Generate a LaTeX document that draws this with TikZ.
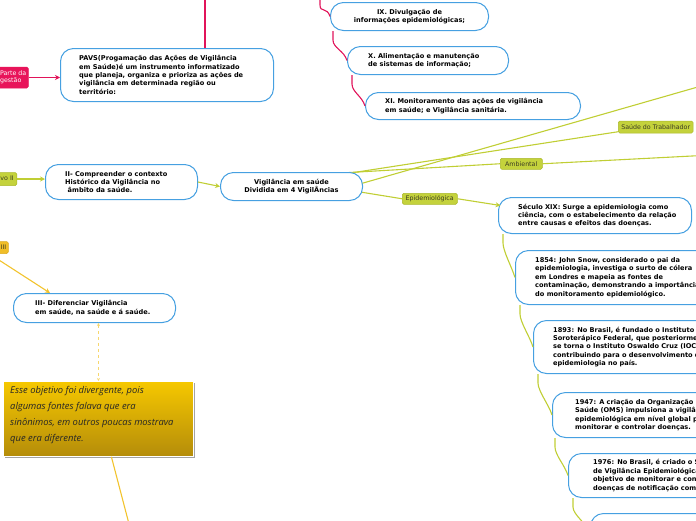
\documentclass[tikz,border=0pt]{standalone}
\usepackage{fontspec}
\setmainfont{DejaVu Sans}
\newfontfamily\notefont{Open Sans}
\usetikzlibrary{arrows.meta,calc,backgrounds,shadows}
\definecolor{bblue}{RGB}{70,160,225}
\definecolor{pcol}{RGB}{225,20,90}
\definecolor{pfill}{RGB}{232,20,90}
\definecolor{gcol}{RGB}{192,206,52}
\definecolor{glab}{RGB}{196,210,60}
\definecolor{gdark}{RGB}{170,184,40}
\definecolor{ylab}{RGB}{240,190,40}
\definecolor{ydark}{RGB}{220,170,30}
\definecolor{ycol}{RGB}{242,195,45}
\definecolor{dcol}{RGB}{247,215,110}
\definecolor{labtext}{RGB}{60,60,35}
\definecolor{ntop}{RGB}{246,200,0}
\definecolor{nbot}{RGB}{180,140,10}
\begin{document}
\begin{tikzpicture}[x=1pt,y=1pt,
  box/.style={draw=bblue, line width=1pt, fill=white, rounded corners=13pt, anchor=north west, inner sep=0pt},
  btxt/.style={font=\bfseries\fontsize{6.6}{8.4}\selectfont, align=left, anchor=west, inner sep=0pt, text=black},
  lab/.style={font=\fontsize{6.3}{7.5}\selectfont, inner sep=0pt, rounded corners=1.5pt, line width=0.5pt},
  gline/.style={draw=gcol, line width=1.1pt},
  pline/.style={draw=pcol, line width=1.1pt},
  yline/.style={draw=ycol, line width=1.1pt},
  dline/.style={draw=dcol, line width=1.1pt, dashed},
  branch/.style={to path={-- ++(0,-9) .. controls +(0,-8) and +(-3,10) .. (\tikztotarget)}},
  arr/.style={-{Stealth[length=5pt,width=5pt]}}
]
\useasboundingbox (0,0) rectangle (696,-520);
\clip (0,0) rectangle (696,-520);

% boxes
\node[box, minimum width=213pt, minimum height=53pt] (pavs) at (60,-48) {};
\node[btxt] (pavs-t) at ([xshift=19pt]pavs.west) {PAVS(Progamação das Ações de Vigilância\\em Saúde)é um instrumento informatizado\\que planeja, organiza e prioriza as ações de\\vigilância em determinada região ou\\território:};

\node[box, minimum width=158pt, minimum height=28pt] (ix) at (330,-2) {};
\node[btxt, align=center, anchor=center] (ix-t) at (ix.center) {IX. Divulgação de\\informações epidemiológicas;};

\node[box, minimum width=161pt, minimum height=28pt] (xn) at (347,-46) {};
\node[btxt] (xn-t) at ([xshift=21pt]xn.west) {X. Alimentação e manutenção\\de sistemas de informação;};

\node[box, minimum width=215pt, minimum height=27pt] (xi) at (365,-92) {};
\node[btxt] (xi-t) at ([xshift=20pt]xi.west) {XI. Monitoramento das ações de vigilância\\em saúde; e Vigilância sanitária.};

\node[box, minimum width=152pt, minimum height=35pt] (ii) at (45,-164) {};
\node[btxt] (ii-t) at ([xshift=20pt]ii.west) {II- Compreender o contexto\\Histórico da Vigilância no\\\hspace*{2.5pt}âmbito da saúde.};

\node[box, minimum width=142pt, minimum height=28pt] (vig) at (220,-172) {};
\node[btxt, align=center, anchor=center] (vig-t) at (vig.center) {Vigilância em saúde\\Dividida em 4 VigilÂncias};

\node[box, minimum width=162pt, minimum height=29pt] (iii) at (13,-293) {};
\node[btxt] (iii-t) at ([xshift=22pt]iii.west) {III- Diferenciar Vigilância\\em saúde, na saúde e á saúde.};

\node[box, minimum width=193pt, minimum height=36pt] (sec) at (498,-197) {};
\node[btxt] (sec-t) at ([xshift=20pt]sec.west) {Século XIX: Surge a epidemiologia como\\ciência, com o estabelecimento da relação\\entre causas e efeitos das doenças.};

\node[box, minimum width=200pt, minimum height=54pt] (n1854) at (515,-250) {};
\node[btxt] (n1854-t) at ([xshift=20pt]n1854.west) {1854: John Snow, considerado o pai da\\epidemiologia, investiga o surto de cólera\\em Londres e mapeia as fontes de\\contaminação, demonstrando a importância\\do monitoramento epidemiológico.};

\node[box, minimum width=200pt, minimum height=53pt] (n1893) at (533,-320) {};
\node[btxt] (n1893-t) at ([xshift=20pt]n1893.west) {1893: No Brasil, é fundado o Instituto\\Soroterápico Federal, que posteriormente\\se torna o Instituto Oswaldo Cruz (IOC),\\contribuindo para o desenvolvimento da\\epidemiologia no país.};

\node[box, minimum width=200pt, minimum height=45pt] (n1947) at (552,-392) {};
\node[btxt] (n1947-t) at ([xshift=23pt]n1947.west) {1947: A criação da Organização Mundial da\\Saúde (OMS) impulsiona a vigilância\\epidemiológica em nível global para\\monitorar e controlar doenças.};

\node[box, minimum width=200pt, minimum height=44pt] (n1976) at (568,-453) {};
\node[btxt] (n1976-t) at ([xshift=25pt]n1976.west) {1976: No Brasil, é criado o Sistema Nacional\\de Vigilância Epidemiológica (SNVE), com o\\objetivo de monitorar e controlar as\\doenças de notificação compulsória.};

\node[box, minimum width=200pt, minimum height=40pt] (n5) at (590,-513) {};

% note
\node[anchor=north west, minimum width=190pt, minimum height=75pt, inner sep=0pt,
      top color=ntop, bottom color=nbot, draw=white, line width=0.8pt,
      drop shadow={shadow xshift=1.5pt, shadow yshift=-1.8pt, fill=black!45, opacity=0.8}] (note) at (3,-381) {};
\node[font=\notefont\itshape\fontsize{9.4}{16}\selectfont, align=left, anchor=north west, inner sep=0pt, text=black!85] (note-t) at (10,-386.5) {Esse objetivo foi divergente, pois\\algumas fontes falava que era\\sinônimos, em outros poucas mostrava\\que era diferente.};

% labels
\node[lab, fill=pfill, draw=pfill, text=white, align=left, anchor=east, minimum height=21pt, inner xsep=2pt] (gestao) at (28.5,-77.5) {Parte da\\gestão};
\node[lab, fill=glab, draw=gdark, text=labtext, anchor=east, minimum height=13pt, inner xsep=3pt] (obj2) at (17,-179) {Objetivo II};
\node[lab, fill=ylab, draw=ydark, text=labtext, anchor=east, minimum height=12pt, inner xsep=2pt] (obj3) at (8.5,-247.5) {Objetivo III};
\node[lab, fill=glab, draw=gdark, text=labtext, anchor=west, minimum height=12pt, inner xsep=3pt] (st) at (618,-127) {Saúde do Trabalhador};
\node[lab, fill=glab, draw=gdark, text=labtext, anchor=north west, minimum width=42pt, minimum height=11pt] (amb) at (500,-158) {Ambiental};
\node[lab, fill=glab, draw=gdark, text=labtext, anchor=north west, minimum width=55pt, minimum height=11pt] (epi) at (402,-193) {Epidemiológica};

% coordinates
\coordinate (ptop) at (205,2);
\coordinate (ixsrc) at (320,4);
\coordinate (tr) at (696,-87.5);
\coordinate (ambout) at (696,-155.8);
\coordinate (nbotc) at (128.5,-522);

% green lines from vig (behind)
\begin{scope}[on background layer]
\coordinate (va) at ($(vig.east)+(-22,12)$);
\coordinate (vb) at ($(vig.east)+(-22,13.5)$);
\coordinate (vc) at ($(vig.east)+(-12,0)$);
\coordinate (vd) at ($(vig.east)+(-12,-4)$);
\draw[gline] (va) -- ([yshift=1.5pt]st.south west);
\draw[gline] (vb) -- (amb.west);
\draw[gline] (vc) -- (tr);
\draw[gline] (vd) -- (epi.west);
\end{scope}
\draw[gline] (amb.east) -- (ambout);
\draw[gline, arr] (epi.east) -- ([xshift=2.5pt,yshift=10pt]sec.west);
\draw[gline, arr] (ii.east) -- (vig.west);
\draw[gline, arr] (obj2.east) -- (obj2.east -| ii.west);

% pink
\draw[pline] (ptop) -- (ptop |- pavs.north);
\draw[pline, arr] (gestao.east) -- (gestao.east -| pavs.west);
\draw[pline] (ixsrc) to[branch] (ix.west);
\draw[pline] ([xshift=3pt]ix.south west) to[branch] (xn.west);
\draw[pline] ([xshift=5pt]xn.south west) to[branch] (xi.west);

% green timeline
\draw[gline] ([xshift=5pt]sec.south west) to[branch] (n1854.west);
\draw[gline] ([xshift=5pt]n1854.south west) to[branch] (n1893.west);
\draw[gline] ([xshift=5pt]n1893.south west) to[branch] (n1947.west);
\draw[gline] ([xshift=3pt]n1947.south west) to[branch] (n1976.west);
\draw[gline] ([xshift=5pt]n1976.south west) to[branch] (n5.west);

% yellow
\draw[yline, arr] (obj3.south) -- ([xshift=37pt]iii.north west);
\draw[dline, {Stealth[length=3pt,width=3pt]}-{Stealth[length=3pt,width=3pt]}] (note.north |- iii.south) -- (note.north);
\draw[yline] ([xshift=13pt]note.south) -- (nbotc);
\end{tikzpicture}
\end{document}
